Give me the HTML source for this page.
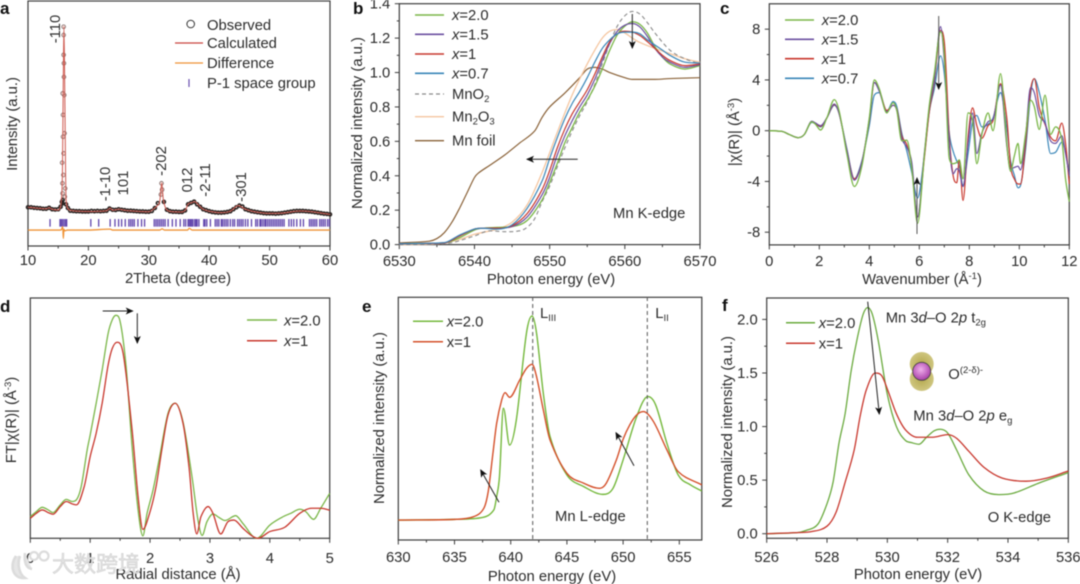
<!DOCTYPE html>
<html lang="en">
<head>
<meta charset="utf-8">
<title>Mn oxide characterization panels</title>
<style>
html,body{margin:0;padding:0;background:#fff;}
#figure{display:block;width:1080px;height:584px;filter:blur(0.45px);}
text{font-family:"Liberation Sans","Noto Sans CJK SC",sans-serif;font-size:14.8px;fill:#2b2b2b;}
.letter{font-weight:bold;font-size:17px;fill:#111;}
.sub{font-size:9.5px;}
.rot{text-anchor:middle;}
.arrow{stroke:#222;stroke-width:1;fill:none;marker-end:url(#arrow-head);}
</style>
</head>
<body>
<svg id="figure" xmlns="http://www.w3.org/2000/svg" width="1080" height="584" viewBox="0 0 1080 584">
<defs>
<marker id="arrow-head" markerWidth="9" markerHeight="8" refX="7" refY="3.5" orient="auto" markerUnits="userSpaceOnUse"><path d="M0,0 L8,3.5 L0,7 L2,3.5 Z" fill="#111"/></marker>
<radialGradient id="lobe-fill" cx="50%" cy="50%" r="60%"><stop offset="0%" stop-color="#b5a94e"/><stop offset="100%" stop-color="#d4cc8a"/></radialGradient>
<radialGradient id="atom-fill" cx="45%" cy="40%" r="60%"><stop offset="0%" stop-color="#f0b0ec"/><stop offset="100%" stop-color="#a83fa8"/></radialGradient>
</defs>

<g id="plots"></g>

<!-- Panel a annotations -->
<g>
<text class="letter" x="0" y="14">a</text>
<text class="rot" transform="translate(17,124) rotate(-90)">Intensity (a.u.)</text>
<text class="rot" x="178" y="283">2Theta (degree)</text>
<text class="rot" transform="translate(60,29) rotate(-90)">-110</text>
<text class="rot" transform="translate(110,184) rotate(-90)">-1-10</text>
<text class="rot" transform="translate(128,183) rotate(-90)">101</text>
<text class="rot" transform="translate(166,161) rotate(-90)">-202</text>
<text class="rot" transform="translate(192,180) rotate(-90)">012</text>
<text class="rot" transform="translate(210,180) rotate(-90)">-2-11</text>
<text class="rot" transform="translate(246,187) rotate(-90)">-301</text>
<g>
<circle cx="190.7" cy="24" r="3.8" fill="none" stroke="#333" stroke-width="1"/>
<text x="207" y="30">Observed</text>
<line x1="175" y1="43" x2="203" y2="43" stroke="#c9453f" stroke-width="1.3"/>
<text x="207" y="48">Calculated</text>
<line x1="175" y1="63" x2="203" y2="63" stroke="#ef9336" stroke-width="1.3"/>
<text x="207" y="68">Difference</text>
<line x1="189" y1="79" x2="189" y2="87" stroke="#6a4fb0" stroke-width="1.2"/>
<text x="207" y="88">P-1 space group</text>
</g>
</g>

<!-- Panel b annotations -->
<g>
<text class="letter" x="353" y="14">b</text>
<text class="rot" transform="translate(362,123) rotate(-90)">Normalized intensity (a.u.)</text>
<text class="rot" x="551" y="284">Photon energy (eV)</text>
<text x="613" y="218">Mn K-edge</text>
<line class="arrow" x1="577.7" y1="159.3" x2="527" y2="159.3"/>
<line class="arrow" x1="632.3" y1="14" x2="632.3" y2="48"/>
<g>
<line x1="415" y1="15" x2="444" y2="15" stroke="#7ab648" stroke-width="1.6"/>
<text x="452" y="20"><tspan font-style="italic">x</tspan>=2.0</text>
<line x1="415" y1="34.3" x2="444" y2="34.3" stroke="#6b4fa0" stroke-width="1.6"/>
<text x="452" y="39.5"><tspan font-style="italic">x</tspan>=1.5</text>
<line x1="415" y1="54" x2="444" y2="54" stroke="#c8372d" stroke-width="1.6"/>
<text x="452" y="59"><tspan font-style="italic">x</tspan>=1</text>
<line x1="415" y1="73.3" x2="444" y2="73.3" stroke="#3a86b8" stroke-width="1.6"/>
<text x="452" y="78.5"><tspan font-style="italic">x</tspan>=0.7</text>
<line x1="415" y1="94" x2="444" y2="94" stroke="#888" stroke-width="1.2" stroke-dasharray="4 3"/>
<text x="452" y="99">MnO<tspan class="sub" dy="3">2</tspan></text>
<line x1="415" y1="116.7" x2="444" y2="116.7" stroke="#f5c6a0" stroke-width="1.4"/>
<text x="452" y="121.5">Mn<tspan class="sub" dy="3">2</tspan><tspan dy="-3">O</tspan><tspan class="sub" dy="3">3</tspan></text>
<line x1="415" y1="140.7" x2="444" y2="140.7" stroke="#8a6238" stroke-width="1.3"/>
<text x="452" y="145.5">Mn foil</text>
</g>
</g>

<!-- Panel c annotations -->
<g>
<text class="letter" x="720" y="14">c</text>
<text class="rot" transform="translate(739,132) rotate(-90)">|χ(R)| (Å<tspan class="sub" dy="-5">-3</tspan><tspan dy="5">)</tspan></text>
<text class="rot" x="922" y="284">Wavenumber (Å<tspan class="sub" dy="-5">-1</tspan><tspan dy="5">)</tspan></text>
<g>
<line x1="785" y1="20" x2="814" y2="20" stroke="#7ab648" stroke-width="1.6"/>
<text x="821.7" y="25"><tspan font-style="italic">x</tspan>=2.0</text>
<line x1="785" y1="39.3" x2="814" y2="39.3" stroke="#6b4fa0" stroke-width="1.6"/>
<text x="821.7" y="44.5"><tspan font-style="italic">x</tspan>=1.5</text>
<line x1="785" y1="58.7" x2="814" y2="58.7" stroke="#c8372d" stroke-width="1.6"/>
<text x="821.7" y="64"><tspan font-style="italic">x</tspan>=1</text>
<line x1="785" y1="78.3" x2="814" y2="78.3" stroke="#3a86b8" stroke-width="1.6"/>
<text x="821.7" y="83.5"><tspan font-style="italic">x</tspan>=0.7</text>
</g>
</g>

<!-- Panel d annotations -->
<g>
<text class="letter" x="0" y="312">d</text>
<text class="rot" transform="translate(16,420) rotate(-90)">FT|χ(R)| (Å<tspan class="sub" dy="-5">-3</tspan><tspan dy="5">)</tspan></text>
<text class="rot" x="178" y="579">Radial distance (Å)</text>
<line class="arrow" x1="102.7" y1="311" x2="132.7" y2="311"/>
<line class="arrow" x1="137.3" y1="313.3" x2="137.3" y2="343"/>
<g>
<line x1="247" y1="320" x2="277" y2="320" stroke="#7ab648" stroke-width="1.5"/>
<text x="284" y="325.5"><tspan font-style="italic">x</tspan>=2.0</text>
<line x1="247" y1="340.7" x2="277" y2="340.7" stroke="#c8372d" stroke-width="1.5"/>
<text x="284" y="346"><tspan font-style="italic">x</tspan>=1</text>
</g>
</g>

<!-- Panel e annotations -->
<g>
<text class="letter" x="362" y="312">e</text>
<text class="rot" transform="translate(384,418) rotate(-90)">Normalized intensity (a.u.)</text>
<text class="rot" x="552" y="581">Photon energy (eV)</text>
<line x1="532.7" y1="297" x2="532.7" y2="540" stroke="#555" stroke-width="1" stroke-dasharray="4 3"/>
<line x1="647.3" y1="297" x2="647.3" y2="540" stroke="#555" stroke-width="1" stroke-dasharray="4 3"/>
<text x="540" y="318">L<tspan class="sub" dy="3">III</tspan></text>
<text x="655.3" y="318">L<tspan class="sub" dy="3">II</tspan></text>
<text x="555" y="521">Mn L-edge</text>
<line class="arrow" x1="499" y1="502.3" x2="480.7" y2="470"/>
<line class="arrow" x1="634" y1="465.7" x2="616" y2="432.7"/>
<g>
<line x1="413" y1="321.3" x2="443" y2="321.3" stroke="#74b83c" stroke-width="1.5"/>
<text x="446.7" y="326.5"><tspan font-style="italic">x</tspan>=2.0</text>
<line x1="413" y1="341.7" x2="443" y2="341.7" stroke="#d4502a" stroke-width="1.5"/>
<text x="446.7" y="347">x=1</text>
</g>
</g>

<!-- Panel f annotations -->
<g>
<text class="letter" x="722" y="311">f</text>
<text class="rot" transform="translate(732,422) rotate(-90)">Normalized intensity (a.u.)</text>
<text class="rot" x="918" y="579">Photon energy (eV)</text>
<text x="885.7" y="322.7">Mn 3<tspan font-style="italic">d</tspan>–O 2<tspan font-style="italic">p</tspan> t<tspan class="sub" dy="3">2g</tspan></text>
<text x="913.3" y="420.7">Mn 3<tspan font-style="italic">d</tspan>–O 2<tspan font-style="italic">p</tspan> e<tspan class="sub" dy="3">g</tspan></text>
<text x="987.7" y="522">O K-edge</text>
<text x="948.3" y="379">O<tspan class="sub" dy="-6">(2-δ)-</tspan></text>
<line class="arrow" x1="867.7" y1="301.7" x2="879.3" y2="414"/>
<g>
<ellipse cx="921.7" cy="364" rx="12" ry="12" fill="url(#lobe-fill)"/>
<ellipse cx="921.7" cy="379" rx="12" ry="12" fill="url(#lobe-fill)"/>
<circle cx="921.7" cy="371.3" r="9" fill="url(#atom-fill)" stroke="#444" stroke-width="0.8"/>
</g>
<g>
<line x1="786" y1="322.7" x2="815" y2="322.7" stroke="#6aaa3e" stroke-width="1.5"/>
<text x="818.7" y="328"><tspan font-style="italic">x</tspan>=2.0</text>
<line x1="786" y1="343.3" x2="815" y2="343.3" stroke="#c8372d" stroke-width="1.5"/>
<text x="818.7" y="348.5">x=1</text>
</g>
</g>

<!-- Watermark -->
<g>
<path d="M16,556 C9,566 13,579 25,578 C19,574 17,564 20,556 M25,553 C24,562 26,568 32,569" fill="#e6e6e6" stroke="#dcdcdc" stroke-width="2.6"/>
<circle cx="34" cy="556" r="4" fill="#fff" stroke="#dcdcdc" stroke-width="2.2"/>
<circle cx="44" cy="556" r="4.5" fill="#fff" stroke="#dcdcdc" stroke-width="2.2"/>
<text x="52" y="572" style="font-size:22px;fill:#e2e2e2;stroke:#cfcfcf;stroke-width:0.5">大数跨境</text>
</g>
</svg>

<script>
// ---------- Panel a: XRD ----------
const aCalcTheta = [10,13,13.5,14,15,15.3,15.5,15.7,15.85,15.95,16.1,16.3,16.7,17.5,20,23,23.6,24,25.1,26,28,30,31,31.4,31.8,32.15,32.4,32.7,33.1,34,35.5,36.1,36.5,37,37.6,38.2,39,40,42,43.5,44.8,46,47.5,50,52,55,57,60];
const aCalculated = [15.8,15.2,15.6,15,14.7,15.5,18,30,70,89.5,60,19,15,14.4,14.1,14.4,15.4,14.6,15,14.6,14.2,14,15.5,16.5,18,25.6,19,16,14.5,14,13.9,14.8,17.1,17.6,18.1,16.8,15,14.2,13.6,14.2,16.5,15,14,13.3,13.4,14.3,14,12.9];
const aObsTheta = [10,10.5,11,11.5,12,12.5,13,13.5,14,14.5,15,15.4,15.6,15.7,15.75,16.1,15.72,16.15,15.7,15.85,15.65,15.9,15.8,16.05,15.8,16,15.75,15.95,15.9,15.9,15.9,15.95,16.3,16.6,17,17.5,18,18.5,19,19.5,20,20.5,21,21.5,22,22.5,23,23.5,24,24.5,25,25.5,26,26.5,27,27.5,28,28.5,29,29.5,30,30.5,31,31.5,32,32.1,32.2,32.5,33,33.5,34,34.5,35,35.5,36,36.5,37,37.5,38,38.5,39,39.5,40,40.5,41,41.5,42,42.5,43,43.5,44,44.5,45,45.5,46,46.5,47,47.5,48,48.5,49,49.5,50,50.5,51,51.5,52,52.5,53,53.5,54,54.5,55,55.5,56,56.5,57,57.5,58,58.5,59,59.5,60];
const aObserved = [15.8,15.8,15.6,15.5,15.4,15.2,15.2,15.6,15,14.9,15,16,18,17.4,18.8,20.1,21.5,23.5,25.6,29,34,37.8,44.6,46,53.5,61.6,62.3,74.6,78,86.1,89.5,69,17,15.5,14.4,14.3,14.2,14.2,14.1,14.1,14.1,14.3,14.2,14.3,14.2,14.3,14.4,15.3,14.8,14.7,15,14.8,14.6,14.4,14.4,14.3,14.2,14.1,14.1,14,14,14.3,15.5,17.5,21,25.6,23,18,14.8,14.2,14,14,13.9,13.9,14.5,17,17.6,18.1,17,16,15,14.6,14.2,13.9,13.7,13.6,13.6,13.7,13.9,14.2,15,15.8,16.5,16.1,15,14.6,14.2,14,13.8,13.6,13.4,13.3,13.3,13.3,13.2,13.3,13.4,13.6,13.8,14,14.2,14.3,14.3,14.3,14.2,14.1,14,13.8,13.6,13.4,13.2,13.1,12.9];
const aDiffTheta = [10,15,15.5,15.75,15.85,15.95,16.1,16.5,20,23.6,24,31.8,32.2,32.6,36.4,36.7,37.2,60];
const aDifference = [6.5,6.5,6.6,7.9,3.1,6.9,6.2,6.5,6.5,6.9,6.5,6.5,7,6.5,6.5,7.2,6.5,6.5];
const aSpaceGroupTicks = [13.65,15.3,15.5,15.7,15.95,16.2,16.4,20.4,21.7,23.6,24.4,25,25.5,26.1,26.7,27,27.3,27.6,28.2,28.8,29.3,30.9,31.2,31.5,31.8,32.1,32.4,32.7,33.2,33.9,34.5,35.2,35.8,36.1,36.5,36.7,36.9,37.1,37.3,37.6,37.8,38,38.3,39.1,39.3,39.6,40.2,41,41.3,41.6,42,42.2,42.5,42.8,43.1,43.5,43.9,44.2,44.7,45,45.3,45.6,46,46.4,47,47.7,48,48.4,48.6,48.9,49.2,49.4,49.7,50,50.3,50.6,50.9,51.2,51.5,51.8,52.1,52.4,53.2,53.6,54,54.5,55.1,55.6,56.6,56.9,57.2,57.5,57.8,58.3,58.6,58.9,59.2,59.6,59.9];
const aXTicks = [10,20,30,40,50,60];
const aXMinor = [15,25,35,45,55];

// ---------- Panel b: Mn K-edge XANES ----------
const bEnergy = [6530,6536,6538,6540,6541,6543,6545,6547,6549,6550,6551,6552,6553,6554,6555,6556,6557,6558,6559,6560,6561,6562,6563,6564,6565,6566,6568,6570];
const bX20 = [.005,.01,.04,.085,.095,.10,.105,.14,.26,.36,.47,.59,.68,.77,.84,.92,1.02,1.13,1.22,1.27,1.295,1.28,1.23,1.15,1.09,1.05,1.02,1.04];
const bX15 = [.005,.01,.05,.09,.095,.095,.105,.16,.29,.39,.52,.63,.72,.80,.87,.96,1.07,1.17,1.24,1.275,1.285,1.265,1.21,1.14,1.09,1.06,1.03,1.045];
const bX10 = [.005,.01,.05,.09,.095,.095,.11,.18,.32,.43,.56,.67,.76,.83,.90,.99,1.09,1.18,1.225,1.24,1.235,1.215,1.18,1.14,1.10,1.07,1.04,1.05];
const bX07 = [.005,.012,.055,.09,.095,.09,.115,.21,.37,.50,.62,.73,.82,.89,.97,1.06,1.14,1.19,1.225,1.235,1.235,1.225,1.19,1.16,1.13,1.10,1.06,1.055];
const bMnO2Energy = [6530,6536,6540,6542,6544,6546,6547,6548,6549,6550,6551,6552,6553,6554,6555,6556,6557,6558,6559,6560,6561,6562,6563,6564,6566,6568,6570];
const bMnO2 = [0,.005,.05,.08,.075,.08,.10,.15,.25,.34,.45,.56,.66,.75,.83,.93,1.05,1.17,1.27,1.33,1.355,1.34,1.29,1.23,1.13,1.08,1.05];
const bMn2O3Energy = [6530,6535,6538,6540,6543,6545,6547,6549,6551,6553,6555,6556,6557,6558,6559,6560,6561,6562,6564,6566,6568,6570];
const bMn2O3 = [0,.005,.03,.06,.09,.13,.23,.42,.65,.87,1.05,1.13,1.20,1.24,1.25,1.23,1.20,1.175,1.14,1.11,1.08,1.06];
const bFoilEnergy = [6530,6534,6535,6536,6537,6538,6539,6540,6540.5,6542,6544,6546,6548,6549,6550,6552,6554,6555,6556,6557,6558,6560,6561,6564,6566,6570];
const bFoil = [.01,.02,.035,.07,.13,.21,.30,.39,.415,.46,.52,.59,.66,.74,.80,.88,.97,1.02,1.03,1.02,1.0,.97,.96,.96,.965,.97];
const bXTicks = [6530,6540,6550,6560,6570];
const bXMinor = [6535,6545,6555,6565];
const bYTicks = [0,.2,.4,.6,.8,1,1.2,1.4];
const bYMinor = [.1,.3,.5,.7,.9,1.1,1.3];

// ---------- Panel c: EXAFS k-space ----------
const cWavenumber = [0,.5,.8,1.15,1.4,1.7,1.85,2.05,2.3,2.6,2.8,3.1,3.4,3.7,4,4.2,4.4,4.7,4.95,5.1,5.3,5.5,5.7,5.93,6.2,6.4,6.6,6.85,7,7.2,7.35,7.5,7.6,7.75,7.95,8.13,8.3,8.5,8.75,8.95,9.25,9.5,9.65,9.8,9.95,10.05,10.25,10.45,10.6,10.8,11.03,11.25,11.45,11.7,11.85,12];
const cX20 = [0,-.05,-.3,-.55,-.3,.7,.5,.05,1,2.45,1.5,-1.8,-4.4,-2.8,1,4,3.3,1.4,2.2,1.6,-.8,-.75,-3,-7.3,-2,2,4.5,7.8,6,-2.2,-2.6,-2.5,-2.3,-3.8,1.4,.8,-2.6,-.3,1.4,0,4.5,-1,-3.2,-2,-1,-2.6,-.3,2.4,1.9,.1,2.8,-.3,.3,-.7,-3.8,-5.6];
const cX15 = [0,-.05,-.3,-.55,-.3,.75,.6,.4,1,2.1,1.3,-1.5,-3.9,-2.5,.9,3.8,3.1,1.5,2,1.6,-.6,-1.3,-2.5,-6.8,-1.8,1.8,4,8.2,5.5,-1,-3.4,-3,-3.2,-4.4,-1,1.4,-1.8,-.2,.7,.9,3.6,-1.2,-3,-2.9,-2.8,-3.1,-.5,3.4,3,1.2,.6,-.8,-1,-.4,-1.8,-3.5];
const cX10 = [0,-.05,-.3,-.55,-.3,.7,.55,.35,1,2.05,1.3,-1.5,-3.8,-2.5,.8,3.8,3.2,1.6,2,1.7,-.4,-1.1,-2.8,-6.8,-2.2,1.5,3.8,7.9,7,-.5,-3.5,-4.1,-2.3,-5.5,-.5,1.8,.4,-.6,.4,.8,3.7,1,-2.8,-3.8,-4.2,-4.2,-1,3.2,4.1,1.8,.5,-.5,-.8,.6,-1,-4.2];
const cX07 = [0,-.05,-.3,-.55,-.3,.65,.55,.3,1,2,1.3,-1.4,-3.8,-2.4,.4,2.8,3,1.5,2.3,1.9,-.2,-1.6,-3.3,-5.3,-2,1.5,3.3,5.9,4.5,-.2,-1.6,-2.4,-2.8,-4.3,-1.8,.7,1.2,.3,.5,1,3,.2,-2.4,-3.5,-4.5,-4.3,-1.5,2.8,4.1,3,.8,-1.8,-1.7,-.9,-1.7,-3.6];
const cXTicks = [0,2,4,6,8,10,12];
const cXMinor = [1,3,5,7,9,11];
const cYTicks = [-8,-4,0,4,8];
const cYMinor = [-6,-2,2,6];

// ---------- Panel d: FT EXAFS ----------
const dRadialGreen = [0,.1,.2,.3,.38,.5,.6,.7,.77,.85,.95,1,1.1,1.2,1.3,1.37,1.43,1.5,1.6,1.7,1.8,1.88,1.95,2.05,2.15,2.3,2.42,2.55,2.7,2.8,2.87,2.95,3.05,3.15,3.25,3.43,3.55,3.78,4,4.2,4.35,4.5,4.6,4.73,4.85,5];
const dX20 = [9,11.1,12.9,11.8,10.7,13.9,16.2,15.3,16,21.5,36.8,43,56.2,70,85.3,91,92.8,90.2,71.4,38.1,11.8,1,10.4,20.1,32.6,52,56.2,48.5,25.7,7.6,1.2,6.9,10.1,8.7,7.4,9.4,6.2,0,5.5,8.7,10.4,12.1,11.1,7.9,12.5,18.7];
const dRadialRed = [0,.1,.2,.3,.38,.5,.6,.7,.77,.9,1,1.1,1.2,1.3,1.37,1.45,1.55,1.7,1.8,1.88,2,2.1,2.2,2.3,2.42,2.55,2.65,2.72,2.78,2.85,2.97,3.05,3.18,3.3,3.4,3.55,3.68,3.8,4,4.25,4.5,4.7,4.85,5];
const dX10 = [8.3,10.4,11.8,10.7,10,13.2,15.3,14.3,13.9,21.5,34,43.7,56.2,72.1,79.1,81.6,77,45.1,17.3,3.7,11.1,21.5,37.4,51.3,56.2,47.9,29.8,10.4,1.8,9,13.2,10.4,1.8,6.9,7.6,4.2,1.4,0,2.8,4.6,10.4,12.5,12.5,11.7];
const dXTicks = [0,1,2,3,4,5];
const dXMinor = [.5,1.5,2.5,3.5,4.5];

// ---------- Panel e: Mn L-edge ----------
const eEnergyGreen = [630,635,637.5,638.5,638.75,639,639.35,639.9,640.5,641.4,641.9,642.3,642.9,643.5,645,646.5,648.2,649.1,650,651.2,652.2,652.9,653.9,654.9,656,657];
const eX20 = [8.2,8.5,9.3,12.4,17.9,26.1,54.3,39.1,49.5,85.2,92.3,85.2,60.4,42.6,26.8,22,18.8,21.3,33,50.8,59.1,55.6,39.8,26.8,22.7,20.2];
const eEnergyRed = [630,635,636.7,637.6,638,638.4,638.75,639.2,639.5,639.9,640.8,641.4,641.9,642.3,642.9,643.5,645,646.5,647.9,648.5,649.4,650,650.6,651.2,651.8,652.7,653.9,654.9,657];
const eX10 = [8.2,8.5,9.6,13,20,35,48.1,57.7,60.7,58.8,65.9,70.7,72.4,67.3,53.6,41.2,27.5,23.4,21.3,23.4,33,41.5,47.5,51.5,52.9,48.8,37.1,28.2,22.7];
const eXTicks = [630,635,640,645,650,655];
const eXMinor = [632.5,637.5,642.5,647.5,652.5];

// ---------- Panel f: O K-edge ----------
const fEnergyGreen = [526,527,527.3,527.7,528,528.2,528.4,528.6,528.8,529,529.2,529.35,529.5,529.7,530,530.3,530.6,530.8,531.05,531.3,531.55,531.75,532,532.3,532.7,533.2,533.7,534.2,535,536];
const fX20 = [0,.01,.03,.09,.28,.48,.85,1.12,1.52,1.82,2.05,2.11,2.05,1.8,1.3,1,.87,.85,.835,.9,.96,.975,.94,.78,.55,.4,.365,.38,.47,.57];
const fEnergyRed = [526,527,527.5,528,528.3,528.6,528.9,529.1,529.3,529.6,529.8,530,530.3,530.6,531,531.5,532,532.3,532.7,533.2,533.8,534.6,535.3,536];
const fX10 = [0,.01,.02,.07,.2,.48,.78,1.1,1.34,1.5,1.48,1.35,1.12,.97,.9,.9,.925,.89,.77,.62,.52,.49,.52,.585];
const fXTicks = [526,528,530,532,534,536];
const fXMinor = [527,529,531,533,535];
const fYTicks = [0,.5,1,1.5,2];
const fYMinor = [.25,.75,1.25,1.75];

const SVG_NS = 'http://www.w3.org/2000/svg';
const root = document.getElementById('plots');

function make(tag, attrs, parent, text) {
  const node = document.createElementNS(SVG_NS, tag);
  for (const key in attrs) node.setAttribute(key, attrs[key]);
  if (text !== undefined) node.textContent = text;
  parent.appendChild(node);
  return node;
}
function scale(d0, d1, r0, r1) {
  return v => r0 + (v - d0) / (d1 - d0) * (r1 - r0);
}
// Cubic path: central-difference tangents, clipped to stay monotone; extremes stay on the points.
function curvePath(px, py) {
  const n = px.length, s = [], m = [];
  for (let i = 0; i < n - 1; i++) s.push((py[i + 1] - py[i]) / (px[i + 1] - px[i] || 1e-6));
  m[0] = s[0]; m[n - 1] = s[n - 2];
  for (let i = 1; i < n - 1; i++) {
    if (s[i - 1] * s[i] <= 0) { m[i] = 0; continue; }
    const central = (py[i + 1] - py[i - 1]) / (px[i + 1] - px[i - 1] || 1e-6);
    const limit = 3 * Math.min(Math.abs(s[i - 1]), Math.abs(s[i]));
    m[i] = Math.sign(central) * Math.min(Math.abs(central), limit);
  }
  let d = 'M' + px[0].toFixed(2) + ',' + py[0].toFixed(2);
  for (let i = 0; i < n - 1; i++) {
    const h = (px[i + 1] - px[i]) / 3;
    d += 'C' + (px[i] + h).toFixed(2) + ',' + (py[i] + m[i] * h).toFixed(2) + ' ' +
         (px[i + 1] - h).toFixed(2) + ',' + (py[i + 1] - m[i + 1] * h).toFixed(2) + ' ' +
         px[i + 1].toFixed(2) + ',' + py[i + 1].toFixed(2);
  }
  return d;
}
function panel(name, box, xDomain, yDomain, xMajor, xMinor, yMajor, yMinor, fmtX, fmtY, xLabelY) {
  const g = make('g', {}, root);
  
  
  const sx = scale(xDomain[0], xDomain[1], box.left, box.right);
  const sy = scale(yDomain[0], yDomain[1], box.bottom, box.top);
  const frame = make('rect', {x: box.left, y: box.top, width: box.right - box.left, height: box.bottom - box.top, fill: 'none', stroke: '#3d3d3d', 'stroke-width': 1.2}, g);
  
  
  xMajor.forEach(v => {
    const tick = make('line', {x1: sx(v), x2: sx(v), y1: box.bottom, y2: box.bottom + 4.5, stroke: '#3d3d3d', 'stroke-width': 1}, g);
    
    
    const label = make('text', {x: sx(v), y: xLabelY, 'text-anchor': 'middle'}, g, fmtX(v));
    
    
  });
  xMinor.forEach(v => {
    const tick = make('line', {x1: sx(v), x2: sx(v), y1: box.bottom, y2: box.bottom + 2.5, stroke: '#3d3d3d', 'stroke-width': 1}, g);
    
    
  });
  yMajor.forEach(v => {
    const tick = make('line', {x1: box.left - 4.5, x2: box.left, y1: sy(v), y2: sy(v), stroke: '#3d3d3d', 'stroke-width': 1}, g);
    
    
    const label = make('text', {x: box.left - 9, y: sy(v) + 5, 'text-anchor': 'end'}, g, fmtY(v));
    
    
  });
  yMinor.forEach(v => {
    const tick = make('line', {x1: box.left - 2.5, x2: box.left, y1: sy(v), y2: sy(v), stroke: '#3d3d3d', 'stroke-width': 1}, g);
    
    
  });
  return {g, sx, sy};
}
function series(p, name, xs, ys, color, width, dash) {
  const attrs = {d: curvePath(xs.map(p.sx), ys.map(p.sy)), fill: 'none', stroke: color, 'stroke-width': width, 'stroke-linejoin': 'round'};
  if (dash) attrs['stroke-dasharray'] = dash;
  const el = make('path', attrs, p.g);
  
  
  return el;
}
const asInt = v => String(v);
const oneDecimal = v => v.toFixed(1);

// Panel a
const pA = panel('panel-a', {left: 28, right: 330, top: 1, bottom: 246}, [10, 60], [0, 100], aXTicks, aXMinor, [], [], asInt, asInt, 265);
aObsTheta.forEach((t, i) => {
  const isPeak = aObserved[i] > 19;
  const el = make('circle', {cx: pA.sx(t), cy: pA.sy(aObserved[i]), r: isPeak ? 1.9 : 1.5, fill: isPeak ? '#f3d8d4' : 'none', stroke: isPeak ? '#6e5a58' : '#2a2422', 'stroke-width': isPeak ? .7 : 1.6}, pA.g);
  
  
});
series(pA, 'calculated-line', aCalcTheta, aCalculated, '#cf5a50', 1);
aSpaceGroupTicks.forEach(t => {
  const el = make('line', {x1: pA.sx(t), x2: pA.sx(t), y1: pA.sy(11), y2: pA.sy(7.9), stroke: '#5f43ac', 'stroke-width': 1.3}, pA.g);
  
  
});
series(pA, 'difference-line', aDiffTheta, aDifference, '#ef9336', 1.3);

// Panel b
const pB = panel('panel-b', {left: 399.3, right: 700, top: 3.7, bottom: 244.6}, [6530, 6570], [0, 1.4], bXTicks, bXMinor, bYTicks, bYMinor, asInt, oneDecimal, 266);
series(pB, 'mn-foil-line', bFoilEnergy, bFoil, '#8a6238', 1.2);
series(pB, 'mn2o3-line', bMn2O3Energy, bMn2O3, '#f5c6a0', 1.3);
series(pB, 'mno2-line', bMnO2Energy, bMnO2, '#8a8a8a', 1.1, '4 3');
series(pB, 'x-2-0-line', bEnergy, bX20, '#7ab648', 1.3);
series(pB, 'x-1-5-line', bEnergy, bX15, '#6b4fa0', 1.2);
series(pB, 'x-1-line', bEnergy, bX10, '#c8372d', 1.2);
series(pB, 'x-0-7-line', bEnergy, bX07, '#3a86b8', 1.2);

// Panel c
const pC = panel('panel-c', {left: 769.3, right: 1069.3, top: 3.8, bottom: 244.9}, [0, 12], [-9, 10], cXTicks, cXMinor, cYTicks, cYMinor, asInt, asInt, 266);
series(pC, 'x-0-7-line', cWavenumber, cX07, '#3a86b8', 1.2);
series(pC, 'x-1-line', cWavenumber, cX10, '#c8372d', 1.2);
series(pC, 'x-1-5-line', cWavenumber, cX15, '#6b4fa0', 1.2);
series(pC, 'x-2-0-line', cWavenumber, cX20, '#7ab648', 1.3);
const upArrowC = make('line', {x1: 917, y1: 234, x2: 917, y2: 178, class: 'arrow', style: 'stroke:#555'}, pC.g);


const downArrowC = make('line', {x1: 938.7, y1: 16, x2: 938.7, y2: 89, class: 'arrow', style: 'stroke:#555'}, pC.g);



// Panel d
const pD = panel('panel-d', {left: 30.3, right: 329.7, top: 298, bottom: 538.3}, [0, 5], [0, 100], dXTicks, dXMinor, [], [], asInt, asInt, 563);
series(pD, 'x-2-0-line', dRadialGreen, dX20, '#7ab648', 1.3);
series(pD, 'x-1-line', dRadialRed, dX10, '#c8372d', 1.3);

// Panel e
const pE = panel('panel-e', {left: 398.3, right: 701.8, top: 297.3, bottom: 540}, [630, 657], [0, 100], eXTicks, eXMinor, [], [], asInt, asInt, 562);
series(pE, 'x-2-0-line', eEnergyGreen, eX20, '#74b83c', 1.4);
series(pE, 'x-1-line', eEnergyRed, eX10, '#d4502a', 1.4);

// Panel f
const pF = panel('panel-f', {left: 766.7, right: 1068.3, top: 298, bottom: 538.3}, [526, 536], [-.043, 2.2], fXTicks, fXMinor, fYTicks, fYMinor, asInt, oneDecimal, 562);
series(pF, 'x-2-0-line', fEnergyGreen, fX20, '#6aaa3e', 1.3);
series(pF, 'x-1-line', fEnergyRed, fX10, '#c8372d', 1.3);
</script>
</body>
</html>
